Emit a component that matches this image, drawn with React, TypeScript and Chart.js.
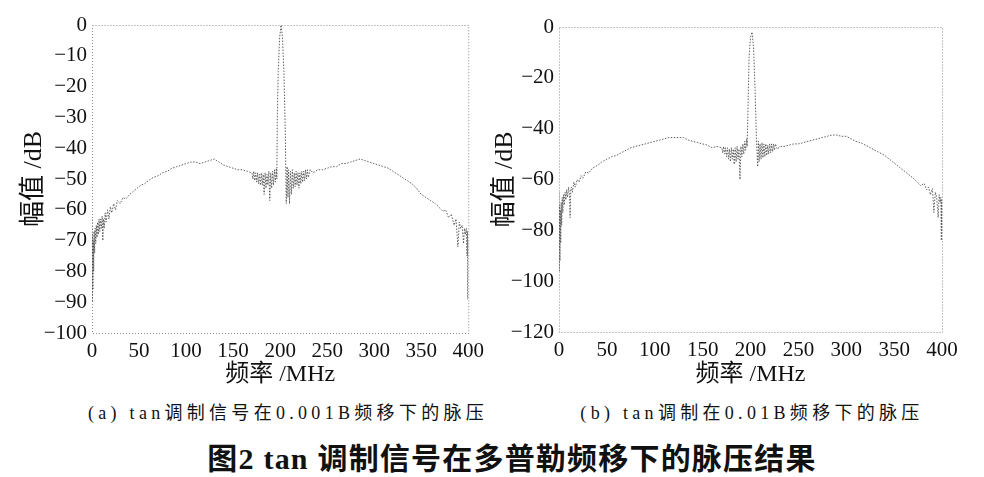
import React, { useEffect, useRef } from "react";
import Chart from "chart.js/auto";

// (a) tan调制信号在0.001B频移下的脉压
const freqA = [
  0, 0.3, 0.6, 1, 1.4, 1.8, 2.2, 2.8, 3.3, 4, 4.6, 5.3, 6, 6.8, 7.5, 8.3, 9, 10, 10.8, 11.5, 12.2,
  13, 14, 15, 16.5, 18, 19.5, 21, 23, 25, 27, 30, 33, 36, 40, 44, 48, 52, 56, 60,
  65, 70, 75, 80, 85, 90, 95, 100, 105, 110, 115, 120, 125, 130, 135, 140, 145, 150, 155, 160, 165,
  170, 171, 172, 173, 174, 175, 176, 177, 178, 179, 180, 181, 182, 183, 184, 185, 186, 187, 188, 189,
  190, 191, 192, 193, 194, 195, 196, 196.5,
  197, 198, 199.5, 201, 202.5, 204, 205.5, 206.5,
  207.5, 208.3, 209, 210, 211, 212, 213, 214, 215, 216, 217, 218, 219, 220, 221, 222, 223, 224, 225, 226,
  227, 228, 229, 230, 232, 235,
  240, 245, 250, 255, 260, 265, 270, 275, 280, 285, 290, 295, 300, 305, 310, 315, 320, 325, 330, 335,
  340, 345, 350, 355, 360, 365, 370,
  373, 376, 379, 382, 385, 387, 389, 390.5, 392, 393.5, 395, 396, 397, 398, 398.7, 399.2, 399.6, 400,
];
const ampA = [
  -63, -90, -68, -86, -70, -80, -67, -74, -66, -71, -65, -69, -64, -68, -63, -67, -63, -66, -62, -70, -63,
  -66, -61, -64, -60, -63, -59, -61, -58, -60, -57, -58, -56, -56.5, -55, -54, -53, -52, -51.5, -50.5,
  -49.5, -49, -48, -47.5, -46.5, -46, -45.5, -45, -44.5, -44.5, -45, -44.5, -44, -43.5, -44.5, -45.5, -46, -46.5, -47, -47, -47.5,
  -48, -50, -47.5, -50.5, -48, -51, -48, -51.5, -48.5, -52, -48, -52, -48.5, -55, -48, -53, -48.5, -52, -47.5, -57,
  -48, -53, -47.5, -52, -47, -51, -46.5, -50,
  -30, -15, -4, 0, -4, -15, -35, -58,
  -46, -56, -47, -58, -47.5, -55, -47, -53, -48, -52.5, -47.5, -52, -48, -53, -48, -51.5, -47.5, -51, -47.5, -50.5,
  -47, -50, -47, -49.5, -47, -48,
  -47, -47, -46.5, -46, -46, -45, -45, -44.5, -44, -43.5, -44, -44.5, -45, -45.5, -46, -46.5, -47.5, -48.5, -49.5, -50.5,
  -51.5, -53, -55, -56, -57, -58, -59.5,
  -60.5, -60, -62.5, -61.5, -65, -63, -72, -64, -66, -65, -71, -66, -68, -66, -75, -67, -89, -70,
];

// (b) tan调制在0.01B频移下的脉压
const freqB = [
  0, 0.3, 0.6, 1, 1.4, 1.8, 2.3, 2.8, 3.4, 4, 4.7, 5.5, 6.3, 7.2, 8, 9, 10, 11, 11.6, 12.3,
  13, 14, 15.5, 17, 19, 21, 23, 25, 28, 31, 35, 40, 45, 50, 55, 60,
  65, 70, 75, 80, 85, 90, 95, 100, 105, 110, 115, 120, 125, 130, 135, 140, 145, 150, 155, 160, 165,
  170, 171, 172, 173, 174, 175, 176, 177, 178, 179, 180, 181, 182, 183, 184, 185, 186, 187, 188, 189,
  190, 191, 192, 193, 194, 195, 196, 196.5,
  197.5, 198.5, 200, 201.6, 203.2, 204.8, 206.2, 207.5,
  208.3, 209, 210, 211, 212, 213, 214, 215, 216, 217, 218, 219, 220, 221, 222, 223, 224, 225, 226,
  228, 231, 235,
  240, 245, 250, 255, 260, 265, 270, 275, 280, 285, 290, 295, 300, 305, 310, 315, 320, 325, 330, 335,
  340, 345, 350, 355, 360, 365, 370,
  374, 378, 381, 384, 386, 388, 390, 391.5, 393, 394.5, 396, 397, 398, 398.8, 399.3, 399.7, 400,
];
const ampB = [
  -65, -96, -70, -92, -72, -85, -69, -78, -67, -73, -66, -70, -65, -68, -64, -67, -63, -66, -75, -64,
  -63, -65, -61, -63, -60, -61, -58.5, -59.5, -57, -57.5, -55.5, -54.5, -53, -52, -51, -50.5,
  -49.5, -48.5, -47.5, -47, -46.5, -46, -45.5, -45, -44.5, -44, -43.5, -43.5, -43.5, -43.5, -44.5, -45, -45.5, -46, -46.5, -47.5, -47,
  -47.5, -49.5, -47, -50, -47.5, -51, -47.5, -52, -48, -53, -47.5, -52, -48, -54, -47.5, -53, -47, -52, -48, -60,
  -47, -51, -46, -50, -45, -48.5, -44, -47,
  -30, -12, -4, -2, -8, -25, -44, -55,
  -45, -53, -46, -52, -45.5, -51.5, -46, -51, -46, -50.5, -46.5, -50, -46, -49.5, -46, -49, -46, -48.5, -46,
  -48, -47, -47,
  -46.5, -46, -46, -45.5, -45, -44.5, -44, -43.5, -43, -42.5, -42.5, -43, -43, -44, -45, -45.5, -46.5, -47.5, -48.5, -49.5,
  -50.5, -52, -53.5, -55, -56.5, -58, -59.5,
  -61, -62.5, -61.5, -64, -63, -66, -63.5, -73, -65, -67, -75, -66, -69, -67, -84, -68, -80,
];

const xTicks = [0, 50, 100, 150, 200, 250, 300, 350, 400];
const yLabel = "幅值 /dB";
const xLabel = "频率 /MHz";
const captionA = "(a) tan调制信号在0.001B频移下的脉压";
const captionB = "(b) tan调制在0.01B频移下的脉压";
const figureTitle = "图2  tan 调制信号在多普勒频移下的脉压结果";

const serif = "'Liberation Serif', 'Noto Sans CJK SC', serif";

// dotted MATLAB-like frame around the plot area
const framePlugin = {
  id: "dottedFrame",
  afterDraw(chart: any) {
    const { ctx, chartArea: a } = chart;
    ctx.save();
    ctx.strokeStyle = "#8a8a8a";
    ctx.lineWidth = 1;
    ctx.setLineDash([1, 2]);
    ctx.strokeRect(a.left + 0.5, a.top + 0.5, a.right - a.left, a.bottom - a.top);
    ctx.restore();
  },
};

interface PanelProps {
  freq: number[];
  amp: number[];
  yMin: number;
  yStep: number;
  left: number;
  width: number;
  height: number;
  padTop: number;
  padRight: number;
  yWidth: number;
  xHeight: number;
  yTitlePad: number;
}

const minus = (v: number | string) => String(v).replace("-", "\u2212");

function PulsePanel(p: PanelProps) {
  const canvasRef = useRef<HTMLCanvasElement | null>(null);

  useEffect(() => {
    if (!canvasRef.current) return;
    const chart = new Chart(canvasRef.current, {
      type: "line",
      data: {
        datasets: [
          {
            data: p.freq.map((f, i) => ({ x: f, y: p.amp[i] })),
            borderColor: "rgba(70,70,70,0.85)",
            borderWidth: 1,
            borderDash: [1.5, 1.5],
            pointRadius: 0,
            tension: 0,
          },
        ],
      },
      options: {
        animation: false,
        responsive: false,
        layout: { padding: { top: p.padTop, right: p.padRight, left: 0, bottom: 0 } },
        plugins: { legend: { display: false }, tooltip: { enabled: false } },
        scales: {
          x: {
            type: "linear",
            min: 0,
            max: 400,
            afterBuildTicks: (s: any) => {
              s.ticks = xTicks.map((v) => ({ value: v }));
            },
            afterFit: (s: any) => {
              s.height = p.xHeight;
            },
            grid: { display: false, drawTicks: false },
            border: { display: false },
            ticks: { color: "#111", padding: 6, maxRotation: 0, font: { family: serif, size: 21 } },
            title: {
              display: true,
              text: xLabel,
              color: "#111",
              padding: { top: 0, bottom: 6 },
              font: { family: serif, size: 24 },
            },
          },
          y: {
            type: "linear",
            min: p.yMin,
            max: 0,
            afterFit: (s: any) => {
              s.width = p.yWidth;
            },
            grid: { display: false, drawTicks: false },
            border: { display: false },
            ticks: {
              stepSize: p.yStep,
              color: "#111",
              padding: 5,
              font: { family: serif, size: 21 },
              callback: (v: any) => minus(v),
            },
            title: {
              display: true,
              text: yLabel,
              color: "#111",
              padding: { top: p.yTitlePad, bottom: 0 },
              font: { family: serif, size: 26 },
            },
          },
        },
      },
      plugins: [framePlugin],
    });
    return () => {
      chart.destroy();
    };
  }, []);

  return (
    <canvas
      ref={canvasRef}
      width={p.width}
      height={p.height}
      style={{ position: "absolute", left: p.left, top: 0, width: p.width, height: p.height }}
    />
  );
}

const captionStyle: React.CSSProperties = {
  position: "absolute",
  top: 398,
  width: 520,
  textAlign: "center",
  fontFamily: serif,
  fontSize: 18,
  letterSpacing: 4.3,
  color: "#111",
  whiteSpace: "nowrap",
};

export default function App() {
  return (
    <div style={{ position: "absolute", left: 0, top: 0, width: 984, height: 477, background: "#fff", overflow: "hidden" }}>
      <PulsePanel
        freq={freqA}
        amp={ampA}
        yMin={-100}
        yStep={10}
        left={0}
        width={490}
        height={395}
        padTop={25}
        padRight={6}
        yWidth={92}
        xHeight={62}
        yTitlePad={19}
      />
      <PulsePanel
        freq={freqB}
        amp={ampB}
        yMin={-120}
        yStep={20}
        left={490}
        width={494}
        height={395}
        padTop={27}
        padRight={42}
        yWidth={69}
        xHeight={63}
        yTitlePad={0}
      />
      <div style={{ ...captionStyle, left: 288 - 260 }}>{captionA}</div>
      <div style={{ ...captionStyle, left: 752 - 260 }}>{captionB}</div>
      <div
        style={{
          position: "absolute",
          top: 434,
          left: 0,
          width: 1024,
          textAlign: "center",
          fontFamily: serif,
          fontSize: 30,
          fontWeight: "bold",
          letterSpacing: 1.2,
          color: "#111",
          whiteSpace: "nowrap",
        }}
      >
        {figureTitle}
      </div>
    </div>
  );
}
